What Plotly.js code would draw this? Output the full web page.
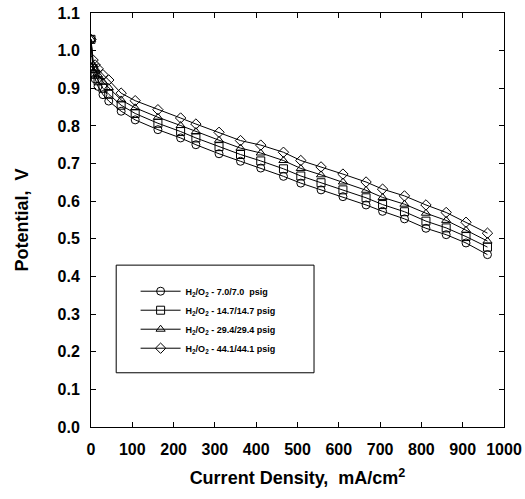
<!DOCTYPE html>
<html>
<head>
<meta charset="utf-8">
<script src="https://cdn.plot.ly/plotly-3.0.1.min.js"></script>
<style>
html,body{margin:0;padding:0;background:#fff;}
#chart{width:525px;height:499px;}
</style>
</head>
<body>
<div id="chart"></div>
<script>
// Current density (mA/cm^2)
const currentDensity = [0, 5, 10, 17, 29, 43, 73, 107, 162, 217, 254, 310, 362, 411, 466, 508, 557, 610, 666, 706, 759, 811, 860, 908, 960];
// Potential (V) per pressure
const potential_7_0  = [1.03, 0.940, 0.925, 0.905, 0.883, 0.866, 0.839, 0.816, 0.790, 0.768, 0.750, 0.726, 0.706, 0.688, 0.666, 0.648, 0.630, 0.612, 0.590, 0.573, 0.553, 0.528, 0.511, 0.489, 0.458];
const potential_14_7 = [1.03, 0.952, 0.937, 0.920, 0.900, 0.884, 0.855, 0.833, 0.807, 0.785, 0.768, 0.745, 0.724, 0.707, 0.686, 0.667, 0.649, 0.630, 0.609, 0.591, 0.572, 0.547, 0.529, 0.506, 0.478];
const potential_29_4 = [1.03, 0.962, 0.948, 0.935, 0.917, 0.902, 0.869, 0.848, 0.823, 0.801, 0.785, 0.762, 0.741, 0.728, 0.708, 0.687, 0.670, 0.651, 0.629, 0.610, 0.592, 0.568, 0.549, 0.523, 0.494];
const potential_44_1 = [1.03, 0.975, 0.962, 0.952, 0.936, 0.922, 0.887, 0.867, 0.843, 0.821, 0.805, 0.783, 0.761, 0.749, 0.730, 0.708, 0.691, 0.672, 0.651, 0.632, 0.614, 0.590, 0.570, 0.544, 0.515];

const seriesNames = [
  "H<sub>2</sub>/O<sub>2</sub> - 7.0/7.0  psig",
  "H<sub>2</sub>/O<sub>2</sub> - 14.7/14.7 psig",
  "H<sub>2</sub>/O<sub>2</sub> - 29.4/29.4 psig",
  "H<sub>2</sub>/O<sub>2</sub> - 44.1/44.1 psig"
];
const seriesValues = [potential_7_0, potential_14_7, potential_29_4, potential_44_1];
const seriesSymbols = ["circle-open", "square-open", "triangle-up-open", "diamond-open"];

const xTicks = [0, 100, 200, 300, 400, 500, 600, 700, 800, 900, 1000];
const yTicks = [0.0, 0.1, 0.2, 0.3, 0.4, 0.5, 0.6, 0.7, 0.8, 0.9, 1.0, 1.1];

const FONT = "Liberation Sans, Arial, Helvetica, sans-serif";

const traces = seriesValues.map((vals, i) => ({
  x: currentDensity,
  y: vals,
  name: seriesNames[i],
  type: "scatter",
  mode: "lines+markers",
  line: {color: "#000", width: 1},
  marker: {symbol: seriesSymbols[i], size: 8, color: "#000", line: {width: 1, color: "#000"}}
}));

const layout = {
  width: 525, height: 499,
  margin: {l: 91, r: 21, t: 13, b: 72},
  paper_bgcolor: "#fff", plot_bgcolor: "#fff",
  showlegend: true,
  legend: {
    x: 0.108, y: 0.363, xanchor: "left", yanchor: "top",
    bgcolor: "rgba(0,0,0,0)", borderwidth: 0,
    itemwidth: 40,
    font: {family: FONT, size: 9, color: "#000", weight: "bold"},
    tracegroupgap: 0
  },
  shapes: [{
    type: "rect", xref: "paper", yref: "paper",
    x0: 0.061, x1: 0.540, y0: 0.131, y1: 0.391,
    line: {color: "#000", width: 1}, fillcolor: "rgba(0,0,0,0)"
  }],
  xaxis: {
    range: [0, 1000],
    tickvals: xTicks,
    ticktext: xTicks.map(String),
    ticks: "inside", ticklen: 5, tickcolor: "#000",
    ticklabelstandoff: 8,
    showline: true, linecolor: "#000", linewidth: 1, mirror: "ticks",
    showgrid: false, zeroline: false,
    tickfont: {family: FONT, size: 16, color: "#000", weight: "bold"},
    title: {text: "Current Density,  mA/cm<sup>2</sup>", font: {family: FONT, size: 18, color: "#000", weight: "bold"}, standoff: 14}
  },
  yaxis: {
    range: [0, 1.1],
    tickvals: yTicks,
    ticktext: yTicks.map(v => v.toFixed(1)),
    ticks: "inside", ticklen: 5, tickcolor: "#000",
    ticklabelstandoff: 7,
    showline: true, linecolor: "#000", linewidth: 1, mirror: "ticks",
    showgrid: false, zeroline: false,
    tickfont: {family: FONT, size: 16, color: "#000", weight: "bold"},
    title: {text: "Potential,  V", font: {family: FONT, size: 18, color: "#000", weight: "bold"}, standoff: 24}
  }
};

Plotly.newPlot("chart", traces, layout, {staticPlot: true, displayModeBar: false});
</script>
</body>
</html>
